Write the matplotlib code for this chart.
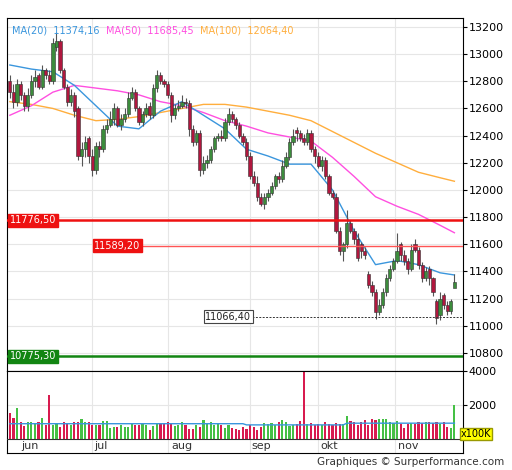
import matplotlib
matplotlib.use("Agg")
import matplotlib.pyplot as plt
from matplotlib.patches import Rectangle

closes = [12720, 12650, 12780, 12700, 12620, 12700, 12800, 12830, 12760, 12880,
          12850, 12800, 13080, 13100, 12880, 12760, 12650, 12700, 12580, 12250,
          12300, 12350, 12250, 12150, 12320, 12300, 12450, 12480, 12520, 12600,
          12480, 12520, 12560, 12680, 12720, 12600, 12500, 12560, 12600, 12550,
          12750, 12850, 12800, 12780, 12700, 12550, 12600, 12620, 12650, 12640,
          12450, 12350, 12420, 12150, 12200, 12220, 12300, 12380, 12400, 12380,
          12500, 12560, 12520, 12480, 12400, 12350, 12250, 12100, 12050, 11950,
          11900, 11950, 11980, 12030, 12100, 12080, 12180, 12240, 12350, 12400,
          12420, 12380, 12350, 12420, 12300, 12250, 12180, 12220, 12100, 11980,
          11950, 11700, 11550, 11600, 11760, 11700, 11640, 11500, 11550, 11520,
          11300, 11250, 11100, 11150, 11250, 11350, 11420, 11480, 11550, 11520,
          11480, 11420, 11560, 11560, 11450, 11350, 11400, 11350, 11250, 11060,
          11200, 11150, 11110, 11180, 11320]
opens = [12800, 12720, 12650, 12780, 12700, 12620, 12700, 12800, 12850, 12760,
         12880, 12850, 12800, 13050, 13100, 12880, 12760, 12650, 12700, 12600,
         12250, 12300, 12380, 12250, 12150, 12320, 12300, 12450, 12480, 12520,
         12600, 12480, 12520, 12560, 12680, 12720, 12600, 12500, 12560, 12620,
         12550, 12750, 12850, 12800, 12780, 12700, 12550, 12600, 12620, 12650,
         12640, 12450, 12350, 12420, 12150, 12200, 12220, 12300, 12380, 12400,
         12380, 12500, 12560, 12520, 12480, 12400, 12350, 12250, 12100, 12050,
         11950, 11900, 11950, 11980, 12030, 12100, 12080, 12180, 12240, 12350,
         12440, 12420, 12380, 12350, 12420, 12300, 12250, 12180, 12220, 12100,
         11980, 11950, 11700, 11550, 11600, 11760, 11700, 11640, 11600, 11550,
         11380, 11300, 11250, 11100, 11150, 11250, 11350, 11420, 11480, 11600,
         11520, 11480, 11420, 11600, 11560, 11450, 11350, 11420, 11350, 11180,
         11080, 11230, 11150, 11110, 11280]
highs = [12850, 12780, 12820, 12800, 12720, 12750, 12850, 12880, 12860, 12920,
         12900, 12880, 13120, 13160, 13110, 12900, 12780, 12740, 12720, 12620,
         12350, 12400, 12400, 12300, 12350, 12360, 12480, 12520, 12580, 12640,
         12620, 12560, 12600, 12720, 12760, 12740, 12620, 12580, 12640, 12650,
         12780, 12880, 12870, 12820, 12800, 12720, 12630, 12660, 12700, 12680,
         12660, 12480, 12440, 12440, 12250, 12260, 12320, 12400, 12420, 12440,
         12530, 12600, 12580, 12540, 12500, 12420, 12380, 12280, 12140, 12100,
         11980, 11980, 12010, 12060, 12120, 12130, 12220, 12280, 12380, 12450,
         12460, 12440, 12410, 12450, 12440, 12320, 12280, 12250, 12240, 12120,
         12000, 11980, 11730, 11620, 11850, 11780, 11720, 11680, 11620, 11580,
         11400, 11330, 11270, 11200, 11280, 11380, 11450, 11500, 11680, 11620,
         11560, 11500, 11600, 11640, 11580, 11470, 11430, 11440, 11360, 11200,
         11250, 11240, 11180, 11200, 11380]
lows = [12680, 12600, 12620, 12660, 12580, 12580, 12680, 12760, 12740, 12740,
        12820, 12780, 12780, 13020, 12860, 12740, 12620, 12620, 12540, 12220,
        12180, 12240, 12200, 12100, 12120, 12240, 12280, 12420, 12460, 12480,
        12460, 12440, 12500, 12540, 12660, 12580, 12480, 12470, 12540, 12520,
        12530, 12720, 12780, 12760, 12680, 12500, 12520, 12580, 12600, 12600,
        12400, 12320, 12330, 12100, 12120, 12160, 12200, 12280, 12360, 12360,
        12360, 12480, 12500, 12450, 12380, 12330, 12220, 12080, 12030, 11920,
        11880, 11860, 11920, 11960, 12010, 12050, 12060, 12160, 12220, 12330,
        12360, 12360, 12330, 12330, 12280, 12200, 12160, 12140, 12080, 11960,
        11930, 11680, 11520, 11480, 11570, 11680, 11600, 11480, 11500, 11490,
        11280, 11220, 11050, 11080, 11130, 11220, 11330, 11400, 11460, 11480,
        11450, 11380, 11400, 11540, 11420, 11320, 11330, 11300, 11220, 11010,
        11040, 11120, 11080, 11090, 11300]
volumes = [1500, 1250, 1800, 1000, 750, 1000, 1000, 950, 1000, 1250,
           800, 2600, 800, 950, 700, 1000, 950, 800, 1000, 1000,
           1200, 1000, 1000, 850, 850, 850, 1050, 1050, 650, 700,
           700, 800, 700, 700, 950, 850, 800, 900, 850, 550,
           750, 900, 950, 900, 1000, 950, 750, 850, 1000, 800,
           600, 600, 800, 700, 1100, 950, 1000, 850, 900, 800,
           650, 800, 650, 600, 550, 700, 600, 850, 700, 500,
           700, 950, 900, 950, 800, 1000, 1100, 1000, 750, 850,
           900, 1050, 4000, 900, 950, 800, 900, 800, 1000, 900,
           800, 950, 900, 900, 1350, 1050, 1000, 850, 1000, 1100,
           850, 1200, 1100, 1150, 1150, 1150, 1000, 950, 1050, 900,
           650, 900, 950, 900, 1000, 950, 1000, 1000, 950, 1000,
           900, 1000, 700, 650, 2000]
ma_idx = [0, 6, 12, 18, 24, 30, 36, 42, 48, 54, 60, 66, 72, 78, 84, 90, 96, 102, 108, 114, 120, 124]
ma20 = [12920, 12890, 12870, 12770, 12620, 12470, 12450, 12580, 12650, 12550, 12450, 12300, 12250, 12190, 12190, 12000, 11700, 11450, 11480, 11450, 11390, 11374]
ma50 = [12550, 12620, 12720, 12770, 12750, 12730, 12700, 12650, 12620, 12570, 12510, 12470, 12420, 12390, 12360, 12240, 12100, 11950, 11880, 11820, 11740, 11685]
ma100 = [12650, 12630, 12600, 12550, 12510, 12520, 12540, 12570, 12600, 12630, 12630, 12610, 12580, 12550, 12510, 12430, 12350, 12270, 12200, 12130, 12090, 12064]
vol_ma = [900] * 66 + [830] * 28 + [930] * 31
month_pos = [5.5, 25.5, 48, 70, 89, 111]
month_names = ["jun", "jul", "aug", "sep", "okt", "nov"]
grid_pos = [23, 44, 67, 86, 107.5]

n = len(closes)
fig = plt.figure(figsize=(5.12, 4.7), dpi=100)
ax = fig.add_axes([7 / 512, 1 - 371 / 470, 456 / 512, 353 / 470])
av = fig.add_axes([7 / 512, 1 - 453 / 470, 456 / 512, 82 / 470])
xlim = (-0.8, 126.4)

for a in (ax, av):
    a.set_xlim(*xlim)
    for g in grid_pos:
        a.axvline(g, color="#e6e6e6", lw=0.8, zorder=0)
    a.yaxis.tick_right()
    a.set_xticks([])
    a.tick_params(axis="y", labelsize=8, length=3, pad=1)

ax.set_ylim(10667, 13266)
ax.set_yticks(range(10800, 13201, 200))
for y in range(10800, 13201, 200):
    ax.axhline(y, color="#e6e6e6", lw=0.8, zorder=0)

for i in range(n):
    up = closes[i] >= opens[i]
    face = "#3c8c3c" if up else "#b0173e"
    ax.vlines(i, lows[i], highs[i], color="#555555", lw=0.8, zorder=2)
    lo, hi = sorted((opens[i], closes[i]))
    ax.add_patch(Rectangle((i - 0.45, lo), 0.9, max(hi - lo, 8), facecolor=face,
                           edgecolor="#333333", lw=0.4, zorder=3))

ax.plot(ma_idx, ma100, color="#ffae3d", lw=1, zorder=1)
ax.plot(ma_idx, ma50, color="#ff4fe0", lw=1, zorder=1)
ax.plot(ma_idx, ma20, color="#3a96dd", lw=1, zorder=1)

ax.axhline(11776.5, color="#ee1111", lw=1.8, zorder=4)
ax.text(0, 11776.5, "11776,50", color="white", fontsize=7, va="center", ha="left",
        bbox=dict(boxstyle="square,pad=0.15", fc="#ee1111", ec="#ee1111"), zorder=5)
ax.plot([36, xlim[1]], [11589.2, 11589.2], color="#ff5555", lw=1, zorder=4)
ax.text(23.5, 11589.2, "11589,20", color="white", fontsize=7, va="center", ha="left",
        bbox=dict(boxstyle="square,pad=0.15", fc="#ee1111", ec="#ee1111"), zorder=5)
ax.plot([67.5, xlim[1]], [11066.4, 11066.4], color="#333333", lw=0.7, ls=(0, (2, 1.5)), zorder=4)
ax.text(54.5, 11066.4, "11066,40", color="#222222", fontsize=7, va="center", ha="left",
        bbox=dict(boxstyle="square,pad=0.15", fc="white", ec="#444444", lw=0.8), zorder=5)
ax.axhline(10775.3, color="#128512", lw=1.8, zorder=4)
ax.text(0, 10775.3, "10775,30", color="white", fontsize=7, va="center", ha="left",
        bbox=dict(boxstyle="square,pad=0.15", fc="#128512", ec="#128512"), zorder=5)

x0 = 0.012
for label, col in [("MA(20)  11374,16  ", "#3a96dd"), ("MA(50)  11685,45  ", "#ff4fe0"),
                   ("MA(100)  12064,40", "#ffae3d")]:
    t = ax.text(x0, 0.965, label, transform=ax.transAxes, color=col, fontsize=7, va="center")
    fig.canvas.draw()
    bb = t.get_window_extent().transformed(ax.transAxes.inverted())
    x0 = bb.x1

av.set_ylim(-824, 4000)
av.set_yticks([2000, 4000])
av.axhline(2000, color="#e6e6e6", lw=0.8, zorder=0)
for i in range(n):
    col = "#45c045" if closes[i] >= opens[i] else "#d81b4f"
    av.bar(i, volumes[i], width=0.6, color=col, zorder=2)
av.plot(range(n), vol_ma, color="#3a96dd", lw=1, zorder=3)
av.axhline(0, color="#333333", lw=0.8, zorder=4)
for p, m in zip(month_pos, month_names):
    av.text(p, -420, m, ha="center", va="center", fontsize=8, color="#333333")
av.text(125.8, 0, "x100K", ha="left", va="bottom", fontsize=7, zorder=5,
        bbox=dict(boxstyle="square,pad=0.1", fc="#ffff00", ec="#999900"))

fig.text(0.985, 0.018, "Graphiques © Surperformance.com", ha="right", va="center",
         fontsize=7.5, color="#333333")
fig.savefig("out.png", dpi=100)
